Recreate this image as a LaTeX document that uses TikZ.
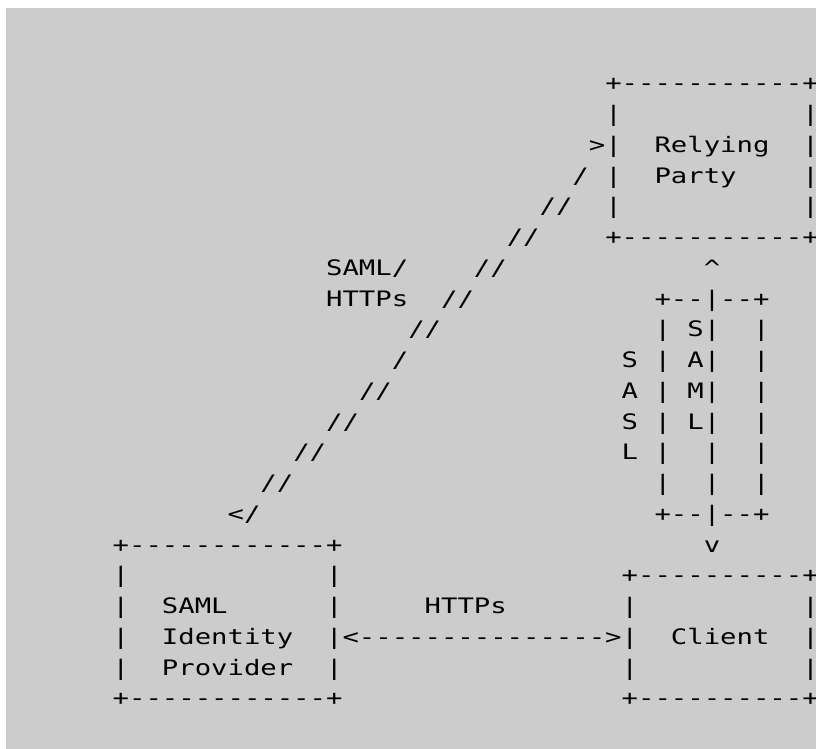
\documentclass[tikz,border=0pt]{standalone}
\usepackage{fontspec}
\setmonofont{DejaVu Sans Mono}[FakeStretch=1.28]
\definecolor{panelgray}{HTML}{CCCCCC}
\tikzstyle{ascii} = [font=\ttfamily\fontsize{21.3}{30.75}\selectfont, inner sep=0pt, anchor=base west, text=black]

\begin{document}
\begin{tikzpicture}[x=1pt, y=-1pt]
% SAML/SASL figure, drawn on a character grid (col, row)
\useasboundingbox (0,0) rectangle (816,749);
\fill[panelgray] (6,8) rectangle (816,749);

\begin{scope}[shift={(112.5,90.8)}, x=16.42pt, y=-30.75pt]
% relying party
\node (rp0) [ascii] at (30,0) {+-----------+};
\node (rp1) [ascii] at (30,1) {|~~~~~~~~~~~|};
\node (rp2) [ascii] at (30,2) {|~~Relying~~|};
\node (rp3) [ascii] at (30,3) {|~~Party~~~~|};
\node (rp4) [ascii] at (30,4) {|~~~~~~~~~~~|};
\node (rp5) [ascii] at (30,5) {+-----------+};

% SAML/HTTPs link
\node (sl2) [ascii] at (29,2) {>};
\node (sl3) [ascii] at (28,3) {/};
\node (sl4) [ascii] at (26,4) {//};
\node (sl5) [ascii] at (24,5) {//};
\node (sl6) [ascii] at (22,6) {//};
\node (sl7) [ascii] at (20,7) {//};
\node (sl8) [ascii] at (18,8) {//};
\node (sl9) [ascii] at (17,9) {/};
\node (sl10) [ascii] at (15,10) {//};
\node (sl11) [ascii] at (13,11) {//};
\node (sl12) [ascii] at (11,12) {//};
\node (sl13) [ascii] at (9,13) {//};
\node (sl14) [ascii] at (7,14) {</};
\node (samllbl) [ascii] at (13,6) {SAML/};
\node (httpslbl) [ascii] at (13,7) {HTTPs};

% SASL channel
\node (sa6) [ascii] at (36,6) {\textasciicircum};
\node (sa7) [ascii] at (33,7) {+--|--+};
\node (sa8) [ascii] at (33,8) {|~S|~~|};
\node (sa9) [ascii] at (31,9) {S~|~A|~~|};
\node (sa10) [ascii] at (31,10) {A~|~M|~~|};
\node (sa11) [ascii] at (31,11) {S~|~L|~~|};
\node (sa12) [ascii] at (31,12) {L~|~~|~~|};
\node (sa13) [ascii] at (33,13) {|~~|~~|};
\node (sa14) [ascii] at (33,14) {+--|--+};
\node (sa15) [ascii] at (36,15) {v};

% identity provider
\node (idp15) [ascii] at (0,15) {+------------+};
\node (idp16) [ascii] at (0,16) {|~~~~~~~~~~~~|};
\node (idp17) [ascii] at (0,17) {|~~SAML~~~~~~|};
\node (idp18) [ascii] at (0,18) {|~~Identity~~|};
\node (idp19) [ascii] at (0,19) {|~~Provider~~|};
\node (idp20) [ascii] at (0,20) {+------------+};

% HTTPs link
\node (hl17) [ascii] at (19,17) {HTTPs};
\node (hl18) [ascii] at (14,18) {<--------------->};

% client
\node (cl16) [ascii] at (31,16) {+----------+};
\node (cl17) [ascii] at (31,17) {|~~~~~~~~~~|};
\node (cl18) [ascii] at (31,18) {|~~Client~~|};
\node (cl19) [ascii] at (31,19) {|~~~~~~~~~~|};
\node (cl20) [ascii] at (31,20) {+----------+};
\end{scope}
\end{tikzpicture}
\end{document}
